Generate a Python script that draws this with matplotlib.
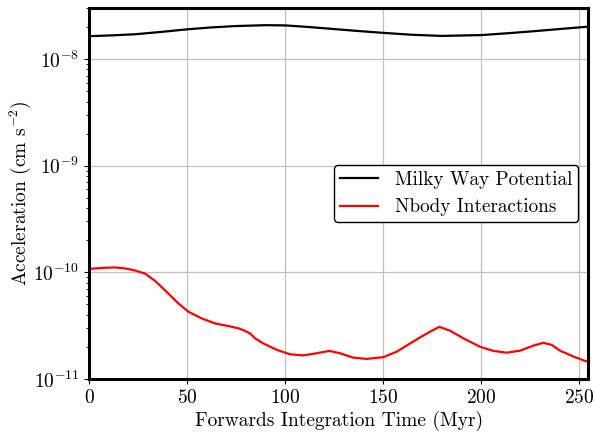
import numpy as np
import matplotlib
matplotlib.use("Agg")
import matplotlib.pyplot as plt
from matplotlib.ticker import NullFormatter

plt.rcParams['font.family'] = 'serif'
plt.rcParams['font.serif'] = ['cmr10']
plt.rcParams['mathtext.fontset'] = 'cm'
plt.rcParams['axes.formatter.use_mathtext'] = True
plt.rcParams['axes.unicode_minus'] = False

# Milky Way potential acceleration (cm s^-2)
t_mw = [0, 12, 23.5, 37, 49.8, 62, 74.5, 89.8, 100, 112, 125.5, 138, 150.5,
        165, 179.9, 200.3, 214, 227.6, 241, 254]
a_mw = [1.64e-8, 1.67e-8, 1.71e-8, 1.80e-8, 1.90e-8, 1.98e-8, 2.04e-8, 2.08e-8,
        2.07e-8, 2.00e-8, 1.91e-8, 1.83e-8, 1.76e-8,
        1.69e-8, 1.65e-8, 1.68e-8, 1.75e-8, 1.83e-8, 1.92e-8, 2.01e-8]

# N-body interaction acceleration (cm s^-2)
t_nb = [0, 1.4, 7, 13.3, 18, 23.5, 28.6, 33.7, 40.5, 45.6, 50.7, 57.5, 64.3,
        71.1, 76.2, 79, 82.1, 84.7, 88.9, 95.8, 102.6, 109.3, 116.2, 122.6,
        128, 134.9, 141.7, 150.2, 157, 163.8, 168.9, 174, 178.7, 184.2, 191,
        199.5, 206.3, 213.1, 219.9, 226.7, 231.8, 236.1, 240.3, 247.1, 254.6]
a_nb = [1.07e-10, 1.08e-10, 1.10e-10, 1.11e-10, 1.09e-10, 1.04e-10, 9.7e-11,
        8.3e-11, 6.3e-11, 5.1e-11, 4.26e-11, 3.69e-11, 3.31e-11,
        3.13e-11, 2.98e-11, 2.85e-11, 2.67e-11, 2.4e-11, 2.15e-11, 1.87e-11,
        1.70e-11, 1.66e-11, 1.74e-11, 1.83e-11,
        1.74e-11, 1.58e-11, 1.54e-11, 1.60e-11, 1.80e-11, 2.15e-11, 2.45e-11,
        2.77e-11, 3.08e-11, 2.83e-11, 2.4e-11,
        2.0e-11, 1.83e-11, 1.76e-11, 1.84e-11, 2.05e-11, 2.18e-11, 2.08e-11,
        1.84e-11, 1.62e-11, 1.44e-11]

y_ticks = [1e-11, 1e-10, 1e-9, 1e-8]

fig, ax = plt.subplots(figsize=(5.94, 4.33), dpi=100)
fig.subplots_adjust(left=0.15, right=0.99, bottom=0.125, top=0.981)

ax.plot(t_mw, a_mw, color='black', lw=1.6, label='Milky Way Potential')
ax.plot(t_nb, a_nb, color='red', lw=1.6, label='Nbody Interactions')

ax.set_yscale('log')
ax.set_yticks(y_ticks)
ax.yaxis.set_minor_formatter(NullFormatter())
ax.set_xlim(0, 254.6)
ax.set_ylim(1e-11, 3e-8)
ax.grid(True, color='#c0c0c0', lw=0.9)
for s in ax.spines.values():
    s.set_linewidth(2.2)
ax.tick_params(labelsize=14)
ax.set_xlabel('Forwards Integration Time (Myr)', fontsize=14, labelpad=3)
ax.set_ylabel(r'Acceleration (cm s$^{-2}$)', fontsize=14, labelpad=0)
ax.legend(loc='center right', fontsize=13.8, framealpha=1, edgecolor='black',
          borderpad=0.3, handletextpad=0.9)

fig.savefig('out.png', dpi=100)
